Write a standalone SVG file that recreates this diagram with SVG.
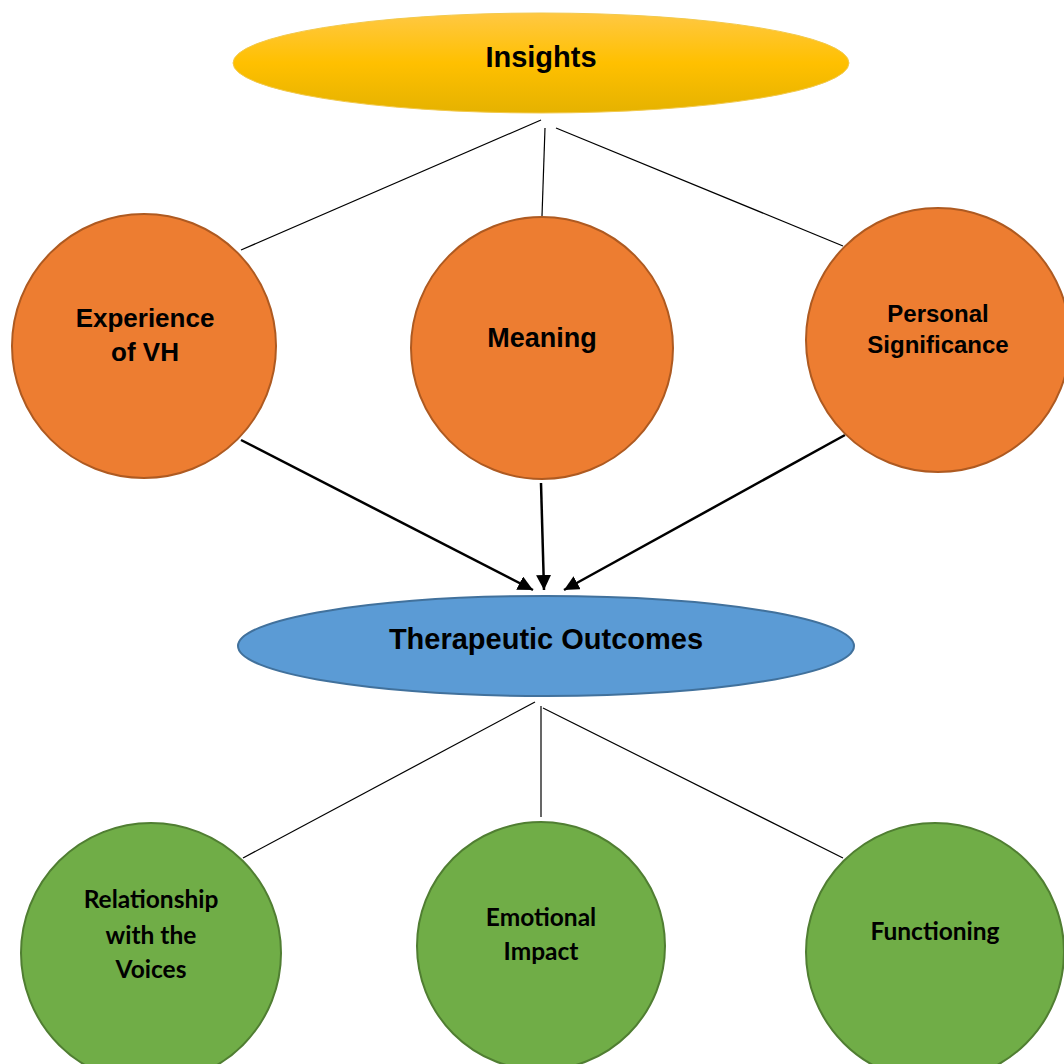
<svg xmlns="http://www.w3.org/2000/svg" width="1064" height="1064" viewBox="0 0 1064 1064">
<defs>
<linearGradient id="gold" x1="0" y1="0" x2="0" y2="1">
<stop offset="0" stop-color="#FFC843"/>
<stop offset="0.5" stop-color="#FFC000"/>
<stop offset="1" stop-color="#E5B200"/>
</linearGradient>
<marker id="arr" viewBox="0 0 10 10" refX="10" refY="5" markerWidth="6" markerHeight="6" markerUnits="strokeWidth" orient="auto">
<path d="M0,0 L10,5 L0,10 z" fill="#000"/>
</marker>
<style>
.orange{fill:#ED7D31;stroke:#AE5A21;stroke-width:2}
.green{fill:#70AD47;stroke:#507E32;stroke-width:2}
.blue{fill:#5B9BD5;stroke:#41719C;stroke-width:2}
.thin{stroke:#000;stroke-width:1.2;fill:none}
.thick{stroke:#000;stroke-width:2.5;fill:none;marker-end:url(#arr)}
.a{font-family:"Liberation Sans",Arial,sans-serif;font-weight:bold;fill:#000;text-anchor:middle}
.c{font-family:Lato,"Open Sans",sans-serif;font-weight:bold;fill:#000;text-anchor:middle;font-size:24.5px}
</style>
</defs>
<g id="connectors">
<line class="thin" x1="541" y1="120" x2="241" y2="250"/>
<line class="thin" x1="545" y1="128" x2="542" y2="216"/>
<line class="thin" x1="556" y1="128" x2="843" y2="246"/>
<line class="thick" x1="241" y1="440" x2="533" y2="590"/>
<line class="thick" x1="541" y1="483" x2="544" y2="590"/>
<line class="thick" x1="845" y1="435" x2="564" y2="590"/>
<line class="thin" x1="535" y1="702" x2="243" y2="858"/>
<line class="thin" x1="541" y1="706" x2="541" y2="817"/>
<line class="thin" x1="543" y1="708" x2="843" y2="858"/>
</g>
<g id="insights">
<ellipse cx="541" cy="63" rx="308" ry="50" fill="url(#gold)" stroke="#F2C94C" stroke-width="1"/>
<text class="a" x="541" y="67" font-size="29">Insights</text>
</g>
<g id="experience">
<circle class="orange" cx="144" cy="346" r="132"/>
<text class="a" x="145" y="327" font-size="26">Experience</text>
<text class="a" x="145" y="361" font-size="26">of VH</text>
</g>
<g id="meaning">
<circle class="orange" cx="542" cy="348" r="131"/>
<text class="a" x="542" y="347" font-size="27">Meaning</text>
</g>
<g id="personal">
<circle class="orange" cx="938" cy="340" r="132"/>
<text class="a" x="938" y="322" font-size="24">Personal</text>
<text class="a" x="938" y="353" font-size="24">Significance</text>
</g>
<g id="outcomes">
<ellipse class="blue" cx="546" cy="646" rx="308" ry="50"/>
<text class="a" x="546" y="649" font-size="29">Therapeutic Outcomes</text>
</g>
<g id="relationship">
<circle class="green" cx="151" cy="953" r="130"/>
<text class="c" x="151" y="908">Relationship</text>
<text class="c" x="151" y="944">with the</text>
<text class="c" x="151" y="978">Voices</text>
</g>
<g id="emotional">
<circle class="green" cx="541" cy="946" r="124"/>
<text class="c" x="541" y="926">Emotional</text>
<text class="c" x="541" y="960">Impact</text>
</g>
<g id="functioning">
<circle class="green" cx="935" cy="952" r="129"/>
<text class="c" x="935" y="940">Functioning</text>
</g>
</svg>
